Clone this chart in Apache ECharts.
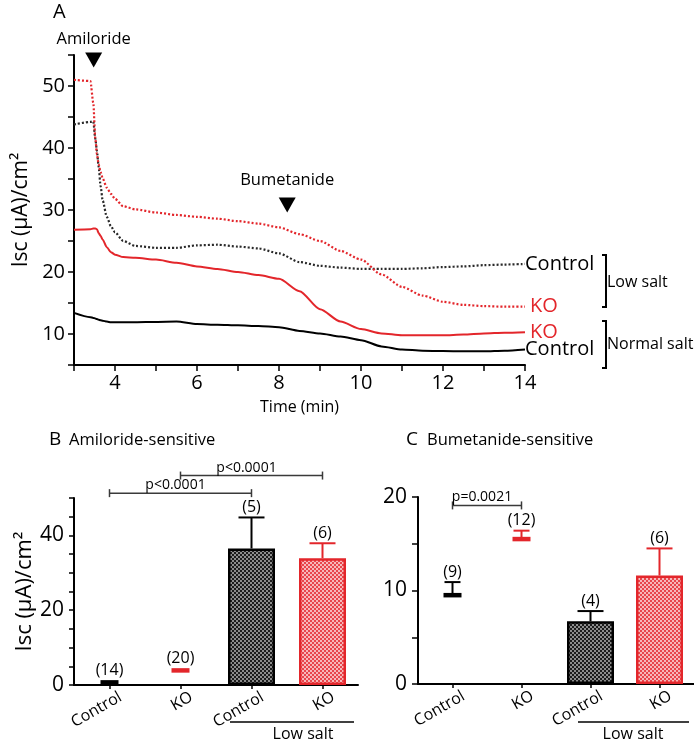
<!DOCTYPE html>
<html><head><meta charset="utf-8">
<script src="https://cdn.jsdelivr.net/npm/echarts@6/dist/echarts.min.js"></script>
<style>html,body{margin:0;padding:0;background:#fff}#c{width:694px;height:743px}</style>
</head><body><div id="c"></div>
<script>
// ---------- Panel A data ----------
const time = [3.0, 3.4, 3.47, 3.52, 3.56, 3.6, 3.65, 3.7, 3.8, 3.9, 4.0, 4.2, 4.5, 5.0, 5.5, 6.0, 6.5, 7.0, 7.5, 8.0, 8.5, 9.0, 9.5, 10.0, 10.5, 11.0, 11.5, 12.0, 12.5, 13.0, 13.5, 14.0];
const lowSaltKO      = [51.0, 50.8, 47.3, 41.5, 39.0, 37.4, 36.1, 35.1, 33.6, 32.6, 31.8, 30.6, 30.1, 29.6, 29.2, 28.9, 28.6, 28.2, 27.8, 27.2, 26.1, 25.0, 23.4, 22.0, 19.6, 17.6, 16.2, 15.2, 14.7, 14.5, 14.4, 14.4];
const lowSaltControl = [43.8, 44.2, 44.3, 41.5, 39.5, 37.0, 33.8, 31.5, 28.9, 27.4, 26.4, 25.0, 24.2, 23.9, 23.9, 24.3, 24.4, 24.1, 23.8, 23.0, 21.6, 21.0, 20.7, 20.5, 20.5, 20.5, 20.6, 20.8, 20.9, 21.1, 21.2, 21.3];
const normalSaltKO   = [26.8, 26.9, 27.0, 27.0, 26.9, 26.3, 25.8, 25.2, 24.0, 23.2, 22.8, 22.4, 22.3, 22.0, 21.5, 20.9, 20.5, 20.0, 19.5, 18.9, 16.9, 14.0, 12.0, 10.8, 10.1, 9.8, 9.8, 9.8, 9.9, 10.1, 10.2, 10.3];
const normalSaltControl = [13.4, 12.7, 12.6, 12.5, 12.4, 12.3, 12.2, 12.15, 12.0, 11.9, 11.9, 11.9, 11.9, 11.95, 12.0, 11.6, 11.5, 11.4, 11.3, 11.1, 10.5, 10.1, 9.6, 9.0, 8.0, 7.5, 7.3, 7.25, 7.2, 7.2, 7.3, 7.5];
const drugNames = ['Amiloride', 'Bumetanide'];
const drugTimes = [3.48, 8.2];
const drugArrowY = [54.2, 30.8];

// ---------- Panel B / C data ----------
const groups = ['Control', 'KO', 'Control', 'KO'];
const amilMean = [0.7, 3.9, 36.5, 33.9];
const amilSem  = [0, 0, 8.3, 4.0];
const amilN    = [14, 20, 5, 6];
const bumMean  = [9.5, 15.5, 6.7, 11.6];
const bumSem   = [1.4, 0.9, 1.1, 2.9];
const bumN     = [9, 12, 4, 6];
const amilP = [['p<0.0001', 0, 2], ['p<0.0001', 1, 3]];
const bumP  = [['p=0.0021', 0, 1]];

// ---------- styling / layout ----------
const FONT = '"Open Sans", sans-serif';
const RED = '#e3262b';
const BLK = '#000000';
const TXT = '#000000';
const sigLevelB = [51.3, 56.0];
const sigLevelC = [19.1];

function checker(c1, c2, s) {
  const cv = document.createElement('canvas');
  cv.width = cv.height = 2 * s;
  const g = cv.getContext('2d');
  g.fillStyle = c1; g.fillRect(0, 0, 2 * s, 2 * s);
  g.fillStyle = c2; g.fillRect(0, 0, s, s); g.fillRect(s, s, s, s);
  return cv;
}
const patCtrl = { image: checker('#1c1c1c', '#8c8c8c', 2), repeat: 'repeat' };
const patKO = { image: checker('#e8464c', '#f7b8ba', 2), repeat: 'repeat' };

const chart = echarts.init(document.getElementById('c'), null, { renderer: 'canvas' });

const pair = arr => time.map((t, i) => [t, arr[i]]);

function lineSeries(name, arr, color, dotted, label, labelColor) {
  return {
    type: 'line', name, xAxisIndex: 0, yAxisIndex: 0, data: pair(arr),
    showSymbol: false, symbol: 'none', smooth: 0.25, smoothMonotone: 'x',
    lineStyle: { color, width: dotted ? 2.2 : 2, type: dotted ? [2, 2] : 'solid' },
    endLabel: { show: true, formatter: label, color: labelColor, fontFamily: FONT, fontSize: 20, distance: label === 'KO' ? 5 : 0 },
    z: 3
  };
}

function barSeries(axis, mean) {
  return {
    type: 'bar', xAxisIndex: axis, yAxisIndex: axis, barWidth: 47,
    data: mean.map((m, i) => i < 2 ? '-' : {
      value: m,
      itemStyle: { color: i % 2 ? patKO : patCtrl, borderColor: i % 2 ? RED : BLK, borderWidth: 2.5 }
    }),
    z: 2
  };
}
function dashSeries(axis, mean) {
  return {
    type: 'scatter', xAxisIndex: axis, yAxisIndex: axis, symbol: 'rect', symbolSize: [18, 4.5], clip: false,
    itemStyle: { opacity: 1 },
    data: mean.map((m, i) => i < 2 ? { value: [i, m], itemStyle: { color: i % 2 ? RED : BLK, opacity: 1 } } : '-'),
    z: 4
  };
}
function errSeries(axis, mean, sem, n) {
  return {
    type: 'custom', xAxisIndex: axis, yAxisIndex: axis, clip: false, z: 5,
    data: mean.map((m, i) => [i, m, sem[i], n[i]]),
    encode: { x: 0, y: 1 },
    renderItem: (params, api) => {
      const i = api.value(0), m = api.value(1), s = api.value(2), cnt = api.value(3);
      const col = i % 2 ? RED : BLK;
      const base = api.coord([i, m]);
      const top = api.coord([i, m + s]);
      const cap = i < 2 ? 8 : 13;
      const kids = [];
      if (s > 0) {
        kids.push({ type: 'line', shape: { x1: base[0], y1: base[1], x2: top[0], y2: top[1] }, style: { stroke: col, lineWidth: 2 } });
        kids.push({ type: 'line', shape: { x1: top[0] - cap, y1: top[1], x2: top[0] + cap, y2: top[1] }, style: { stroke: col, lineWidth: 2 } });
      }
      kids.push({ type: 'text', style: { text: '(' + cnt + ')', x: top[0], y: top[1] - (s > 0 ? 10 : 12), align: 'center', verticalAlign: 'middle', fill: TXT, font: '16px ' + FONT } });
      return { type: 'group', children: kids };
    }
  };
}
function catLabelSeries(axis) {
  return {
    type: 'custom', xAxisIndex: axis, yAxisIndex: axis, clip: false, z: 5,
    data: groups.map((g, i) => [i, 0]),
    encode: { x: 0, y: 1 },
    renderItem: (params, api) => {
      const i = api.value(0);
      const p = api.coord([i, 0]);
      return { type: 'text', x: p[0] + 7, y: p[1] + 4, rotation: 30 * Math.PI / 180,
        style: { text: groups[i], align: 'right', verticalAlign: 'top', fill: TXT, font: '16px ' + FONT } };
    }
  };
}
function sigSeries(axis, list, levels) {
  return {
    type: 'custom', xAxisIndex: axis, yAxisIndex: axis, clip: false, z: 5,
    data: list.map((p, k) => [p[1], levels[k], p[2], k]),
    encode: { x: 0, y: 1 },
    renderItem: (params, api) => {
      const a = api.value(0), lv = api.value(1), b = api.value(2), k = api.value(3);
      const p1 = api.coord([a, lv]), p2 = api.coord([b, lv]);
      const st = { stroke: '#3a3a3a', lineWidth: 1.5 };
      return { type: 'group', children: [
        { type: 'line', shape: { x1: p1[0], y1: p1[1], x2: p2[0], y2: p2[1] }, style: st },
        { type: 'line', shape: { x1: p1[0], y1: p1[1] - 4, x2: p1[0], y2: p1[1] + 4 }, style: st },
        { type: 'line', shape: { x1: p2[0], y1: p2[1] - 4, x2: p2[0], y2: p2[1] + 4 }, style: st },
        { type: 'text', style: { text: list[k][0], x: (p1[0] + p2[0]) / 2 - 5, y: p1[1] - 1, align: 'center', verticalAlign: 'bottom', fill: TXT, font: '14px ' + FONT } }
      ] };
    }
  };
}

const axisLine = { show: true, lineStyle: { color: BLK, width: 2 } };

const option = {
  animation: false,
  backgroundColor: '#fff',
  textStyle: { fontFamily: FONT },
  grid: [
    { left: 74, top: 55, width: 451, height: 310 },
    { left: 74, top: 498, width: 284, height: 187 },
    { left: 418, top: 497, width: 280, height: 187 }
  ],
  xAxis: [
    { type: 'value', gridIndex: 0, min: 3, max: 14, interval: 1,
      name: 'Time (min)', nameLocation: 'middle', nameGap: 34,
      nameTextStyle: { color: TXT, fontSize: 16, fontFamily: FONT },
      axisLine, axisTick: { show: true, length: 6, lineStyle: { color: BLK, width: 1.5 } },
      axisLabel: { color: TXT, fontSize: 20, fontFamily: FONT, margin: 8,
        formatter: v => (v % 2 === 0 ? String(v) : '') },
      splitLine: { show: false } },
    { type: 'category', gridIndex: 1, data: groups,
      axisLine, axisTick: { show: true, alignWithLabel: true, length: 4, lineStyle: { color: BLK, width: 1.5 } },
      axisLabel: { show: false } },
    { type: 'category', gridIndex: 2, data: groups,
      axisLine, axisTick: { show: true, alignWithLabel: true, length: 4, lineStyle: { color: BLK, width: 1.5 } },
      axisLabel: { show: false } }
  ],
  yAxis: [
    { type: 'value', gridIndex: 0, min: 5, max: 55, interval: 5,
      name: 'Isc (μA)/cm²', nameLocation: 'middle', nameGap: 37, nameRotate: 90,
      nameTextStyle: { color: TXT, fontSize: 21, fontFamily: FONT },
      axisLine, axisTick: { show: true, length: 6, lineStyle: { color: BLK, width: 1.5 } },
      axisLabel: { color: TXT, fontSize: 20, fontFamily: FONT, margin: 9,
        formatter: v => (v % 10 === 0 ? String(v) : '') },
      splitLine: { show: false } },
    { type: 'value', gridIndex: 1, min: 0, max: 50, interval: 5,
      name: 'Isc (μA)/cm²', nameLocation: 'middle', nameGap: 37, nameRotate: 90,
      nameTextStyle: { color: TXT, fontSize: 22, fontFamily: FONT },
      axisLine, axisTick: { show: true, length: 5, lineStyle: { color: BLK, width: 1.5 } },
      axisLabel: { color: TXT, fontSize: 21, fontFamily: FONT, margin: 10,
        formatter: v => (v % 20 === 0 ? String(v) : '') },
      splitLine: { show: false } },
    { type: 'value', gridIndex: 2, min: 0, max: 20, interval: 5,
      axisLine, axisTick: { show: true, length: 6, lineStyle: { color: BLK, width: 1.5 } },
      axisLabel: { color: TXT, fontSize: 21, fontFamily: FONT, margin: 11,
        formatter: v => (v % 10 === 0 ? String(v) : '') },
      splitLine: { show: false } }
  ],
  series: [
    lineSeries('lowSaltControl', lowSaltControl, '#2a2a2a', true, 'Control', BLK),
    lineSeries('lowSaltKO', lowSaltKO, RED, true, 'KO', RED),
    lineSeries('normalSaltKO', normalSaltKO, RED, false, 'KO', RED),
    lineSeries('normalSaltControl', normalSaltControl, BLK, false, 'Control', BLK),
    { type: 'scatter', xAxisIndex: 0, yAxisIndex: 0, clip: false, symbol: 'triangle', symbolRotate: 180,
      symbolSize: [17, 15], itemStyle: { color: BLK, opacity: 1 },
      data: drugTimes.map((t, i) => ({ value: [t, drugArrowY[i]], name: drugNames[i],
        label: { show: true, position: 'top', distance: i === 0 ? 5 : 9, formatter: drugNames[i], color: TXT, fontSize: 16.5, fontFamily: FONT } })),
      z: 6 },
    barSeries(1, amilMean), dashSeries(1, amilMean), errSeries(1, amilMean, amilSem, amilN), catLabelSeries(1), sigSeries(1, amilP, sigLevelB),
    barSeries(2, bumMean), dashSeries(2, bumMean), errSeries(2, bumMean, bumSem, bumN), catLabelSeries(2), sigSeries(2, bumP, sigLevelC)
  ],
  graphic: [
    { type: 'text', left: 53, top: 2, style: { text: 'A', font: '20px ' + FONT, fill: TXT } },
    { type: 'text', left: 49, top: 430, style: { text: 'B', font: '19px ' + FONT, fill: TXT } },
    { type: 'text', left: 69, top: 432, style: { text: 'Amiloride-sensitive', font: '16.5px ' + FONT, fill: TXT } },
    { type: 'text', left: 406, top: 430, style: { text: 'C', font: '19px ' + FONT, fill: TXT } },
    { type: 'text', left: 427, top: 432, style: { text: 'Bumetanide-sensitive', font: '16.5px ' + FONT, fill: TXT } },
    { type: 'polyline', shape: { points: [[602, 255], [606, 255], [606, 307], [602, 307]] }, style: { stroke: BLK, lineWidth: 2, fill: null } },
    { type: 'polyline', shape: { points: [[602, 321], [606, 321], [606, 368], [602, 368]] }, style: { stroke: BLK, lineWidth: 2, fill: null } },
    { type: 'text', left: 607, top: 274, style: { text: 'Low salt', font: '16px ' + FONT, fill: TXT } },
    { type: 'text', left: 607, top: 336, style: { text: 'Normal salt', font: '16px ' + FONT, fill: TXT } },
    { type: 'line', shape: { x1: 230, y1: 722, x2: 354, y2: 722 }, style: { stroke: BLK, lineWidth: 1.5 } },
    { type: 'text', x: 303, y: 734, style: { text: 'Low salt', font: '16px ' + FONT, fill: TXT, align: 'center', verticalAlign: 'middle' } },
    { type: 'line', shape: { x1: 578, y1: 722, x2: 689, y2: 722 }, style: { stroke: BLK, lineWidth: 1.5 } },
    { type: 'text', x: 633, y: 734, style: { text: 'Low salt', font: '16px ' + FONT, fill: TXT, align: 'center', verticalAlign: 'middle' } }
  ]
};
chart.setOption(option);
</script></body></html>
